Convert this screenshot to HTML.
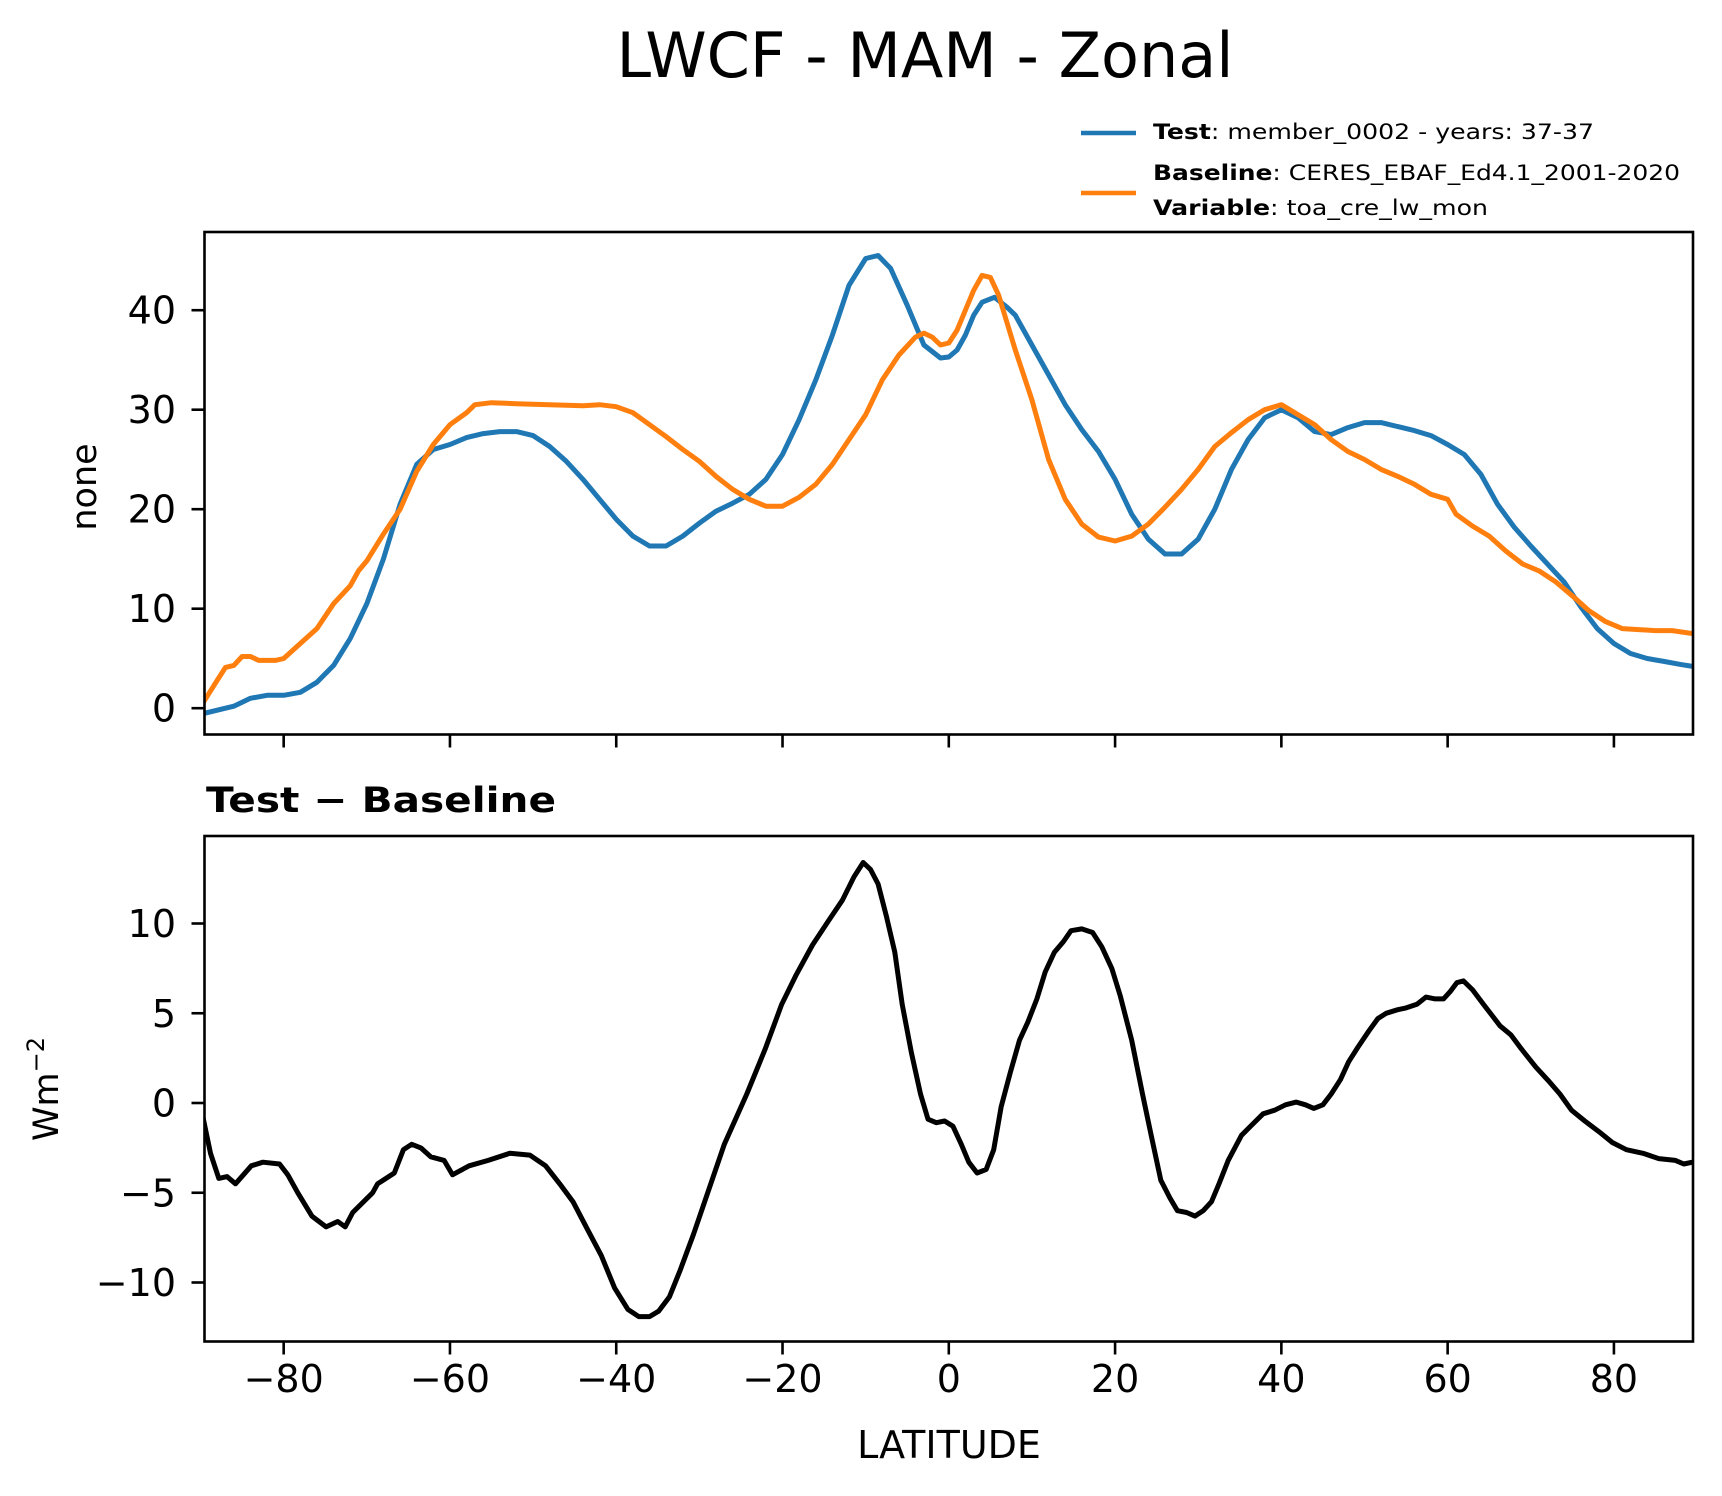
<!DOCTYPE html>
<html><head><meta charset="utf-8"><style>
html,body{margin:0;padding:0;background:#fff}
svg{display:block;font-family:"DejaVu Sans","Liberation Sans",sans-serif}
</style></head><body>
<svg id="fig" width="1722" height="1496" viewBox="0 0 1722 1496" xmlns="http://www.w3.org/2000/svg">
<text x="925" y="77" font-size="62" text-anchor="middle">LWCF - MAM - Zonal</text>
<g>
<line x1="1081" y1="133" x2="1136" y2="133" stroke="#1f77b4" stroke-width="4.5"/>
<line x1="1081" y1="193" x2="1136" y2="193" stroke="#ff7f0e" stroke-width="4.5"/>
<text x="1153" y="139" font-size="21" textLength="441" lengthAdjust="spacingAndGlyphs"><tspan font-weight="bold">Test</tspan>: member_0002 - years: 37-37</text>
<text x="1153" y="180" font-size="21" textLength="527" lengthAdjust="spacingAndGlyphs"><tspan font-weight="bold">Baseline</tspan>: CERES_EBAF_Ed4.1_2001-2020</text>
<text x="1153" y="215" font-size="21" textLength="335" lengthAdjust="spacingAndGlyphs"><tspan font-weight="bold">Variable</tspan>: toa_cre_lw_mon</text>
</g>
<text x="206" y="812" font-size="35" font-weight="bold" textLength="350" lengthAdjust="spacingAndGlyphs">Test − Baseline</text>
<text transform="translate(96,487) rotate(-90)" font-size="35" text-anchor="middle">none</text>
<text transform="translate(58,1089) rotate(-90)" font-size="35" text-anchor="middle">Wm<tspan dy="-14" font-size="24">−2</tspan></text>
<text x="949" y="1458" font-size="38" text-anchor="middle">LATITUDE</text>
<g id="top"></g>
<g id="bot"></g>
</svg>
<script>
// Top panel data (latitude, value)
const testLat = [-89.5,-86,-84,-82,-80,-78,-76,-74,-72,-70,-68,-66,-64,-62,-60,-58,-56,-54,-52,-50,-48,-46,-44,-42,-40,-38,-36,-34,-32,-30,-28,-26,-24,-22,-20,-18,-16,-14,-12,-10,-8.5,-7,-5,-3,-1,0,1,2,3,4,5.5,7,8,10,12,14,16,18,20,22,24,26,28,30,32,34,36,38,40,42,44,46,48,50,52,54,56,58,60,62,64,66,68,70,72,74,76,78,80,82,84,86,88,89.5];
const testVal = [-0.5,0.2,1.0,1.3,1.3,1.6,2.6,4.3,7.0,10.5,15,20.5,24.5,26,26.5,27.2,27.6,27.8,27.8,27.4,26.3,24.8,23,21,19,17.3,16.3,16.3,17.3,18.6,19.8,20.6,21.5,23,25.5,29,33,37.5,42.5,45.2,45.5,44.2,40.5,36.5,35.2,35.3,36,37.5,39.5,40.8,41.3,40.3,39.5,36.5,33.5,30.5,28,25.8,23,19.5,17,15.5,15.5,17,20,24,27,29.2,30,29.2,27.8,27.5,28.2,28.7,28.7,28.3,27.9,27.4,26.5,25.5,23.5,20.5,18.2,16.3,14.5,12.7,10.2,8,6.5,5.5,5,4.7,4.4,4.2];
const baseLat = [-89.5,-88,-87,-86,-85,-84,-83,-81,-80,-78,-76,-74,-72,-71,-70,-68,-66,-64,-62,-60,-58,-57,-55,-52,-48,-44,-42,-40,-38,-36,-34,-32,-30,-28,-26,-24,-22,-20,-18,-16,-14,-12,-10,-8,-6,-4,-3,-2,-1,0,1,2,3,4,5,6,8,10,12,14,16,18,20,22,24,26,28,30,32,34,36,38,40,42,44,46,48,50,52,54,56,58,60,61,63,65,67,69,71,73,75,77,79,81,83,85,87,89.5];
const baseVal = [0.8,2.8,4.1,4.3,5.2,5.2,4.8,4.8,5.0,6.5,8,10.5,12.3,13.8,14.8,17.5,20,23.8,26.5,28.5,29.7,30.5,30.7,30.6,30.5,30.4,30.5,30.3,29.7,28.5,27.3,26,24.8,23.3,22,21,20.3,20.3,21.2,22.5,24.5,27,29.5,33,35.5,37.3,37.7,37.3,36.5,36.7,38,40,42,43.5,43.3,41.5,36,31,25,21,18.5,17.2,16.8,17.3,18.5,20.2,22,24,26.3,27.7,29,30,30.5,29.5,28.5,27,25.8,25,24,23.3,22.5,21.5,21,19.5,18.3,17.3,15.8,14.5,13.8,12.7,11.3,9.8,8.7,8,7.9,7.8,7.8,7.5];
// Bottom panel data
const diffLat = [-89.7,-88.8,-87.8,-86.8,-85.8,-83.9,-82.5,-80.5,-79.5,-78.3,-76.6,-74.9,-73.5,-72.6,-71.7,-69.3,-68.7,-66.7,-65.6,-64.6,-63.5,-62.3,-60.7,-59.7,-57.7,-55.4,-52.8,-50.4,-48.5,-46.8,-45.2,-43.5,-41.8,-40.2,-38.6,-37.3,-36,-34.9,-33.6,-32.3,-30.7,-29,-27,-24.3,-22.1,-20.1,-18.4,-16.4,-14.4,-12.8,-11.4,-10.3,-9.4,-8.5,-7.5,-6.5,-5.6,-4.5,-3.4,-2.5,-1.5,-0.5,0.5,1.5,2.4,3.4,4.5,5.4,6.3,7.4,8.5,9.5,10.6,11.6,12.7,13.8,14.7,16,17.3,18.4,19.6,20.6,22,23.3,24.3,25.5,26.6,27.5,28.6,29.6,30.6,31.6,32.5,33.6,35.2,36.5,37.8,39.2,40.5,41.8,42.9,43.9,45,46,47.1,48.1,49.2,50.5,51.6,52.6,54,55,56.3,57.4,58.5,59.5,60.3,61.1,61.9,63,64.3,65.3,66.3,67.6,68.9,70.6,72.2,73.5,74.9,76.5,78.2,79.8,81.5,83.5,85.4,87.4,88.4,89.4];
const diffVal = [-0.8,-2.8,-4.2,-4.1,-4.5,-3.5,-3.3,-3.4,-4.0,-5.0,-6.3,-6.9,-6.6,-6.9,-6.1,-5.0,-4.5,-3.9,-2.6,-2.3,-2.5,-3.0,-3.2,-4.0,-3.5,-3.2,-2.8,-2.9,-3.5,-4.5,-5.5,-7,-8.5,-10.3,-11.5,-11.9,-11.9,-11.6,-10.8,-9.3,-7.3,-5,-2.3,0.5,3,5.5,7.1,8.8,10.2,11.3,12.6,13.4,13.0,12.2,10.4,8.4,5.5,2.8,0.5,-0.9,-1.1,-1.0,-1.3,-2.3,-3.3,-3.9,-3.7,-2.6,-0.2,1.7,3.5,4.5,5.8,7.3,8.4,9.0,9.6,9.7,9.5,8.7,7.5,6,3.5,0.5,-1.7,-4.3,-5.3,-6.0,-6.1,-6.3,-6.0,-5.5,-4.5,-3.2,-1.8,-1.2,-0.6,-0.4,-0.1,0.05,-0.1,-0.3,-0.1,0.5,1.3,2.3,3.1,4.0,4.7,5.0,5.2,5.3,5.5,5.9,5.8,5.8,6.2,6.7,6.8,6.3,5.5,4.9,4.3,3.8,3.0,2.0,1.2,0.5,-0.4,-1.0,-1.6,-2.2,-2.6,-2.8,-3.1,-3.2,-3.4,-3.3];
const xTicks = [-80,-60,-40,-20,0,20,40,60,80];
const topTicks = [0,10,20,30,40];
const botTicks = [-10,-5,0,5,10];

const NS = 'http://www.w3.org/2000/svg';
const AX_L = 204.5, AX_R = 1693;
const xs = lat => 948.8 + 8.314 * lat;
const yTop = v => 708.2 - 9.95 * v;
const yBot = v => 1103 - 17.95 * v;
function mk(tag, attrs, parent){const e=document.createElementNS(NS,tag);for(const k in attrs)e.setAttribute(k,attrs[k]);parent.appendChild(e);return e;}

function panel(g, top, bottom, yfn, yticks, showXLabels, prefix){
  const clipId = prefix + '-clip';
  const defs = mk('defs', {}, g);
  const cp = mk('clipPath', {id: clipId}, defs);
  mk('rect', {x: AX_L, y: top, width: AX_R-AX_L, height: bottom-top}, cp);
  const series = mk('g', {'clip-path': 'url(#' + clipId + ')'}, g);
  
  
  const frame = mk('rect', {x: AX_L, y: top, width: AX_R-AX_L, height: bottom-top, fill: 'none', stroke: '#000', 'stroke-width': 2.6}, g);
  
  
  xTicks.forEach(t => {
    const x = xs(t);
    const tk = mk('line', {x1: x, x2: x, y1: bottom, y2: bottom + 13, stroke: '#000', 'stroke-width': 2.6}, g);
    
    
    if (showXLabels) {
      const tl = mk('text', {x: x, y: 1392, 'font-size': 38, 'text-anchor': 'middle'}, g);
      tl.textContent = t < 0 ? '\u2212' + Math.abs(t) : String(t);
      
      
    }
  });
  yticks.forEach(t => {
    const y = yfn(t);
    const tk = mk('line', {x1: AX_L - 13, x2: AX_L, y1: y, y2: y, stroke: '#000', 'stroke-width': 2.6}, g);
    
    
    const tl = mk('text', {x: 176, y: y + 13.5, 'font-size': 38, 'text-anchor': 'end'}, g);
    tl.textContent = t < 0 ? '\u2212' + Math.abs(t) : String(t);
    
    
  });
  return series;
}
function line(parent, lats, vals, yfn, color, name){
  const d = lats.map((la, i) => (i ? 'L' : 'M') + xs(la).toFixed(1) + ',' + yfn(vals[i]).toFixed(1)).join('');
  const p = mk('path', {d: d, fill: 'none', stroke: color, 'stroke-width': 5, 'stroke-linejoin': 'round', 'stroke-linecap': 'square'}, parent);
  
  
}
const sTop = panel(document.getElementById('top'), 232, 734.5, yTop, topTicks, false, 'top-panel');
line(sTop, testLat, testVal, yTop, '#1f77b4', 'test-line');
line(sTop, baseLat, baseVal, yTop, '#ff7f0e', 'baseline-line');
const sBot = panel(document.getElementById('bot'), 836, 1341.5, yBot, botTicks, true, 'bottom-panel');
line(sBot, diffLat, diffVal, yBot, '#000000', 'difference-line');
</script>
</body></html>
